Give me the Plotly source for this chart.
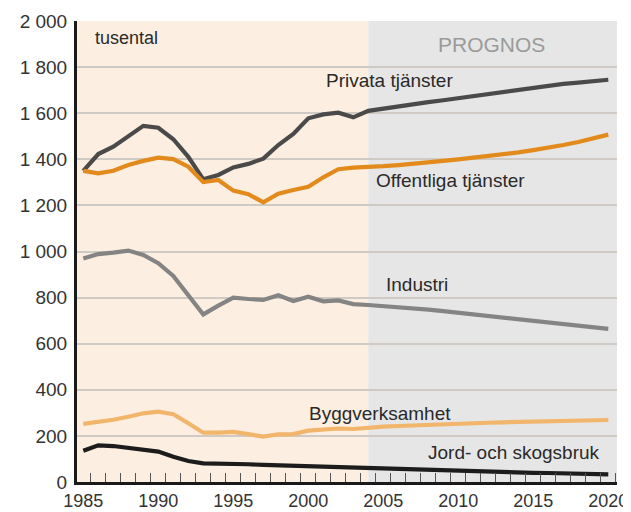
import plotly.graph_objects as go

years = list(range(1985, 2021))

privata = [1350, 1423, 1455, 1498, 1545, 1537, 1487, 1411, 1313, 1332, 1365, 1380,
           1403, 1462, 1510, 1578, 1595, 1602, 1582, 1610,
           1620, 1632, 1640, 1648, 1656, 1665, 1675, 1685, 1693, 1702, 1712, 1720,
           1727, 1733, 1740, 1745]
offentliga = [1350, 1339, 1350, 1375, 1393, 1407, 1401, 1368, 1301, 1310, 1264, 1249,
              1213, 1251, 1267, 1281, 1322, 1357, 1364, 1365,
              1370, 1375, 1380, 1387, 1393, 1400, 1407, 1414, 1422, 1430, 1440, 1450,
              1462, 1475, 1490, 1507]
industri = [970, 989, 995, 1004, 985, 949, 894, 811, 727, 765, 800, 794,
            790, 810, 785, 804, 784, 788, 772, 768,
            764, 759, 754, 748, 741, 734, 728, 722, 716, 709, 702, 695,
            688, 680, 672, 664]
bygg = [252, 259, 270, 283, 298, 305, 294, 255, 214, 214, 217, 208,
        197, 207, 208, 223, 229, 232, 230, 236,
        240, 243, 246, 248, 250, 252, 255, 257, 259, 261, 263, 265,
        266, 267, 268, 269]
jord = [136, 159, 156, 149, 142, 132, 110, 91, 81, 81, 80, 77,
        74, 72, 68, 66, 65, 64, 62, 59,
        57, 55, 53, 51, 50, 48, 46, 45, 43, 42, 40, 39,
        37, 36, 34, 33]

series_names = ["Privata tjänster", "Offentliga tjänster", "Industri",
                "Byggverksamhet", "Jord- och skogsbruk"]
series_values = [privata, offentliga, industri, bygg, jord]
series_colors = ["#4a4a4a", "#e38a1c", "#848484", "#f1b56c", "#1c1c1c"]

y_tickvals = [0, 200, 400, 600, 800, 1000, 1200, 1400, 1600, 1800, 2000]
y_ticktext = ["0", "200", "400", "600", "800", "1 000", "1 200", "1 400",
              "1 600", "1 800", "2 000"]
x_tickvals = [1985, 1990, 1995, 2000, 2005, 2010, 2015, 2020]

prognos_start = 2004
x_min, x_max = 1984.58, 2020.58

font_family = "Liberation Sans, Arial, sans-serif"

fig = go.Figure()
for name, vals, col in zip(series_names, series_values, series_colors):
    fig.add_trace(go.Scatter(x=years, y=vals, mode="lines", name=name,
                             line=dict(color=col, width=4.2), showlegend=False))

fig.add_shape(type="rect", xref="x", yref="y", x0=x_min, x1=prognos_start,
              y0=0, y1=2000, fillcolor="#fcefe1", line_width=0, layer="below")
fig.add_shape(type="rect", xref="x", yref="y", x0=prognos_start, x1=x_max,
              y0=0, y1=2000, fillcolor="#e6e6e6", line_width=0, layer="below")

label_pos = {
    "Privata tjänster": (2005.42, 1744),
    "Offentliga tjänster": (2009.48, 1306),
    "Industri": (2007.25, 858),
    "Byggverksamhet": (2004.8, 299),
    "Jord- och skogsbruk": (2013.7, 126),
}
for name in series_names:
    x, y = label_pos[name]
    fig.add_annotation(x=x, y=y, text=name, showarrow=False, xanchor="center",
                       yanchor="middle", font=dict(size=19, color="#2a2a2a",
                                                   family=font_family))

fig.add_annotation(x=1985.65, y=1926, text="tusental", showarrow=False,
                   xanchor="left", yanchor="middle",
                   font=dict(size=18, color="#2a2a2a", family=font_family))
fig.add_annotation(x=2012.2, y=1900, text="PROGNOS", showarrow=False,
                   xanchor="center", yanchor="middle",
                   font=dict(size=21, color="#9a9a9a", family=font_family))

fig.update_layout(
    width=623, height=504,
    margin=dict(l=69, r=14, t=13, b=30, autoexpand=False),
    paper_bgcolor="white",
    plot_bgcolor="white",
    font=dict(family=font_family, size=19, color="#333333"),
    xaxis=dict(range=[x_min, x_max], tickvals=x_tickvals, automargin=False,
               ticks="", showgrid=False, zeroline=False,
               showline=True, linecolor="#1a1a1a", linewidth=3,
               ticklabelstandoff=0,
               tickfont=dict(size=18, color="#333333"),
               minor=dict(tick0=1985.5, dtick=1, ticks="inside", ticklen=9,
                          tickcolor="#555555", tickwidth=1, showgrid=False)),
    yaxis=dict(range=[0, 2000], tickvals=y_tickvals, ticktext=y_ticktext,
               automargin=False,
               showgrid=True, gridcolor="#cfcac3", gridwidth=1.5,
               zeroline=False, showline=True, linecolor="#1a1a1a", linewidth=3,
               ticks="", ticklabelstandoff=3,
               tickfont=dict(size=19, color="#333333")),
)

fig.write_html("out.html")
